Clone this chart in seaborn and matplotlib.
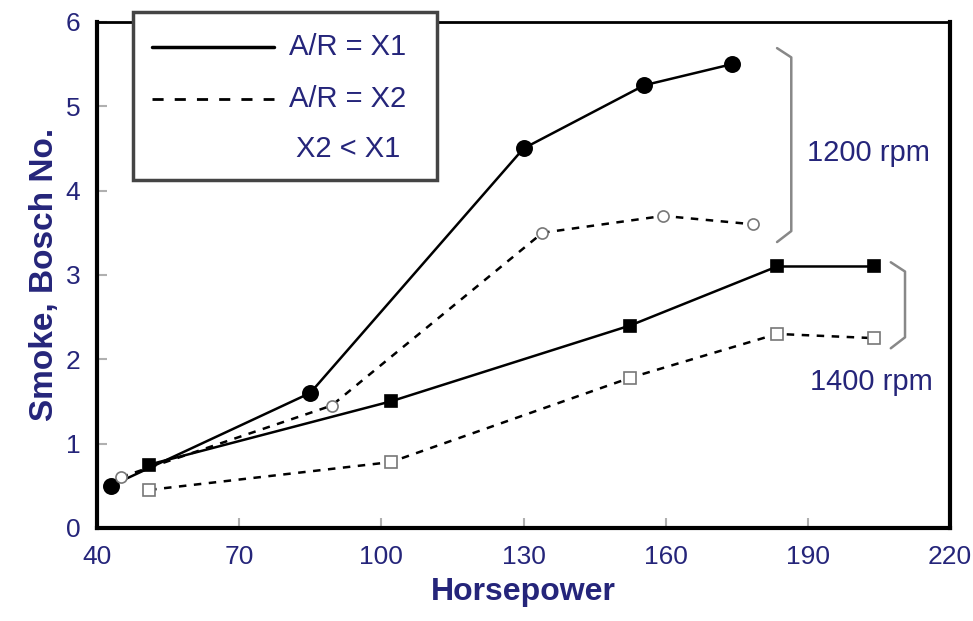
import numpy as np
import pandas as pd
import matplotlib
matplotlib.use("Agg")
import matplotlib.pyplot as plt
from matplotlib.patches import Rectangle
import seaborn as sns

# データ
hp_1200_x1 = [43, 85, 130, 155.5, 174]
smoke_1200_x1 = [0.5, 1.6, 4.5, 5.25, 5.5]
hp_1200_x2 = [45, 89.5, 134, 159.5, 178.5]
smoke_1200_x2 = [0.6, 1.45, 3.5, 3.7, 3.6]
hp_1400_x1 = [51, 102, 152.5, 183.5, 204]
smoke_1400_x1 = [0.75, 1.5, 2.4, 3.1, 3.1]
hp_1400_x2 = [51, 102, 152.5, 183.5, 204]
smoke_1400_x2 = [0.45, 0.78, 1.78, 2.3, 2.25]

x_ticks = [40, 70, 100, 130, 160, 190, 220]
y_ticks = [0, 1, 2, 3, 4, 5, 6]

navy = "#25257a"
sns.set_style("white")
plt.rcParams['font.family'] = ['Liberation Sans Narrow', 'Liberation Sans', 'DejaVu Sans']

fig = plt.figure(figsize=(9.73, 6.21), dpi=100)
ax = fig.add_axes([0.0997, 0.150, 0.8767, 0.8146])

series = [
    (hp_1200_x1, smoke_1200_x1, "-", "o", "black", 11),
    (hp_1200_x2, smoke_1200_x2, (0, (3, 3)), "o", "white", 8),
    (hp_1400_x1, smoke_1400_x1, "-", "s", "black", 9),
    (hp_1400_x2, smoke_1400_x2, (0, (3, 3)), "s", "white", 8),
]
for xs, ys, ls, mk, fc, ms in series:
    sns.lineplot(x=xs, y=ys, ax=ax, color="black", linestyle=ls, lw=1.8,
                 marker=mk, markersize=ms, markerfacecolor=fc,
                 markeredgecolor="black" if fc == "black" else "#777777",
                 markeredgewidth=1.2, estimator=None, sort=False)

ax.set_xlim(40, 220)
ax.set_ylim(0, 6)
ax.set_xticks(x_ticks)
ax.set_yticks(y_ticks)
ax.tick_params(bottom=True, left=True, direction="in", length=7, width=1.5,
               color="#b0b0b0", labelcolor=navy, labelsize=19, pad=12)
for s in ["left", "bottom", "right"]:
    ax.spines[s].set_linewidth(3)
    ax.spines[s].set_color("black")
ax.spines["top"].set_linewidth(2)
ax.spines["top"].set_color("black")

ax.set_xlabel("Horsepower", fontsize=23, fontweight="bold", color=navy, labelpad=6)
ax.set_ylabel("Smoke, Bosch No.", fontsize=24, fontweight="bold", color=navy, labelpad=4)

# 凡例ボックス（手描き）
ax.add_patch(Rectangle((0.042, 0.688), 0.357, 0.332, transform=ax.transAxes,
                       facecolor="white", edgecolor="#444444", lw=2.5,
                       clip_on=False, zorder=5))
ax.plot([0.064, 0.208], [0.95, 0.95], transform=ax.transAxes, color="black",
        lw=2.5, clip_on=False, zorder=6)
ax.plot([0.064, 0.208], [0.847, 0.847], transform=ax.transAxes, color="black",
        lw=2.0, ls=(0, (4, 4)), clip_on=False, zorder=6)
ax.text(0.225, 0.95, "A/R = X1", transform=ax.transAxes, fontsize=21,
        color=navy, va="center", zorder=7)
ax.text(0.225, 0.847, "A/R = X2", transform=ax.transAxes, fontsize=21,
        color=navy, va="center", zorder=7)
ax.text(0.294, 0.748, "X2 < X1", transform=ax.transAxes, fontsize=21,
        color=navy, va="center", ha="center", zorder=7)

# 括弧
def bracket(x0, x1, y0, y1):
    ax.plot([x0, x1, x1, x1, x0], [y1 + 0.03, y1 - 0.08, y1 - 0.1, y0 + 0.1, y0 - 0.03],
            color="#888888", lw=1.8)

bracket(183.5, 186.5, 3.42, 5.66)
bracket(207.5, 210.5, 2.16, 3.12)
ax.text(202.8, 4.45, "1200 rpm", fontsize=21, color=navy, ha="center", va="center")
ax.text(203.5, 1.73, "1400 rpm", fontsize=21, color=navy, ha="center", va="center")

fig.savefig("out.png", dpi=100)
